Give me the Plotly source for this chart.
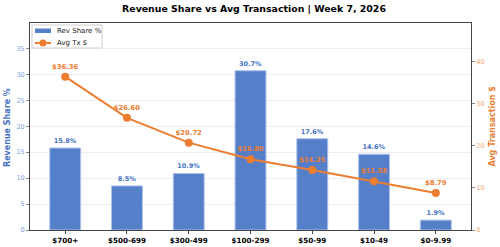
import plotly.graph_objects as go

categories = ["$700+", "$500-699", "$300-499", "$100-299", "$50-99", "$10-49", "$0-9.99"]
rev_share = [15.8, 8.5, 10.9, 30.7, 17.6, 14.6, 1.9]
avg_tx = [36.36, 26.60, 20.72, 16.80, 14.25, 11.58, 8.79]
left_ticks = [0, 5, 10, 15, 20, 25, 30, 35]
right_ticks = [0, 10, 20, 30, 40]

BLUE = "#4472C4"
ORANGE = "#ED7D31"
FONT = "DejaVu Sans"

W, H = 500, 247
ML, MR, MT, MB = 30, 29, 23, 17
PW, PH = W - ML - MR, H - MT - MB


def px(xp):
    return (xp - ML) / PW


def py(yp):
    return (H - MB - yp) / PH


fig = go.Figure()
fig.add_trace(go.Bar(
    x=categories, y=rev_share, name="Rev Share %",
    marker=dict(color=BLUE, opacity=0.9, line=dict(color="#a3bce8", width=1)),
    width=0.5,
    text=[f"{v:.1f}%" for v in rev_share], textposition="outside",
    textfont=dict(family=FONT, size=6.5, color=BLUE, weight="bold"),
    cliponaxis=False, showlegend=False,
))
fig.add_trace(go.Scatter(
    x=categories, y=avg_tx, name="Avg Tx $", yaxis="y2",
    mode="lines+markers+text",
    line=dict(color=ORANGE, width=2),
    marker=dict(color=ORANGE, size=8),
    text=[f"${v:.2f}" for v in avg_tx], textposition="top center",
    textfont=dict(family=FONT, size=6.8, color=ORANGE, weight="bold"),
    cliponaxis=False, showlegend=False,
))

# compact legend (matplotlib-style box)
shapes = [
    dict(type="rect", xref="paper", yref="paper", x0=px(32), x1=px(102), y0=py(48), y1=py(25),
         fillcolor="white", line=dict(color="#d0d0d0", width=1), layer="above"),
    dict(type="rect", xref="paper", yref="paper", x0=px(35), x1=px(51), y0=py(33), y1=py(28.5),
         fillcolor=BLUE, opacity=0.9, line=dict(width=0), layer="above"),
    dict(type="line", xref="paper", yref="paper", x0=px(35), x1=px(51), y0=py(43), y1=py(43),
         line=dict(color=ORANGE, width=2), layer="above"),
    dict(type="circle", xref="paper", yref="paper", x0=px(39.5), x1=px(46.5), y0=py(46.5), y1=py(39.5),
         fillcolor=ORANGE, line=dict(width=0), layer="above"),
]
annotations = [
    dict(text="Rev Share %", xref="paper", yref="paper", x=px(55), y=py(31), xanchor="left",
         yanchor="middle", showarrow=False, font=dict(family=FONT, size=7, color="#222222")),
    dict(text="Avg Tx $", xref="paper", yref="paper", x=px(55), y=py(43), xanchor="left",
         yanchor="middle", showarrow=False, font=dict(family=FONT, size=7, color="#222222")),
    # axis titles
    dict(text="Revenue Share %", xref="paper", yref="paper", x=px(7.5), y=py(127.5),
         xanchor="center", yanchor="middle", textangle=-90, showarrow=False,
         font=dict(family=FONT, size=8, color=BLUE, weight="bold")),
    dict(text="Avg Transaction $", xref="paper", yref="paper", x=px(492), y=py(126.5),
         xanchor="center", yanchor="middle", textangle=-90, showarrow=False,
         font=dict(family=FONT, size=8, color=ORANGE, weight="bold")),
]

fig.update_layout(
    width=W, height=H,
    margin=dict(l=ML, r=MR, t=MT, b=MB, autoexpand=False),
    paper_bgcolor="white", plot_bgcolor="white",
    font=dict(family=FONT, size=7),
    title=dict(text="Revenue Share vs Avg Transaction | Week 7, 2026",
               x=0.508, xanchor="center", y=1 - 8.5 / H, yanchor="middle",
               font=dict(family=FONT, size=9.4, color="black", weight="bold")),
    showlegend=False,
    shapes=shapes, annotations=annotations,
    bargap=0.5,
    xaxis=dict(range=[-0.57, 6.57], showline=True, mirror=True, linecolor="#444444", linewidth=1,
               ticks="outside", ticklen=3, tickcolor="#444444", automargin=False,
               tickfont=dict(family=FONT, size=7.2, color="black", weight="bold"),
               showgrid=False),
    yaxis=dict(range=[0, 39.9], tickvals=left_ticks, showline=True, linecolor="#444444", linewidth=1,
               ticks="outside", ticklen=3, tickcolor="#888888", automargin=False,
               tickfont=dict(family=FONT, size=6.5, color="#7a9ede"),
               showgrid=True, gridcolor="#eeeeee", gridwidth=1, zeroline=False),
    yaxis2=dict(range=[0, 49.09], tickvals=right_ticks, overlaying="y", side="right",
                showline=True, linecolor="#444444", linewidth=1, automargin=False,
                ticks="outside", ticklen=3, tickcolor="#888888",
                tickfont=dict(family=FONT, size=6.5, color="#f2a56e"),
                showgrid=False, zeroline=False),
)

fig.write_html("out.html")
